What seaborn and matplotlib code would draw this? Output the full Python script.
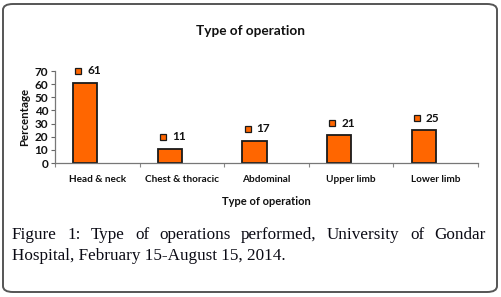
import matplotlib
matplotlib.use('Agg')
import matplotlib.pyplot as plt
import matplotlib.transforms as mtransforms
from matplotlib.patches import FancyBboxPatch
import numpy as np
import pandas as pd
import seaborn as sns

categories = ['Head & neck', 'Chest & thoracic', 'Abdominal', 'Upper limb', 'Lower limb']
percentages = [61, 11, 17, 21, 25]
y_ticks = [0, 10, 20, 30, 40, 50, 60, 70]

caption_line1 = 'Figure 1: Type of operations performed, University of Gondar'
caption_line2 = 'Hospital, February 15-August 15, 2014.'

# Excel-style layout: the bar sits in the left slot of a two-slot group
df = pd.DataFrame({
    'operation': categories * 2,
    'pct': percentages + [np.nan] * len(categories),
    'series': ['pct'] * len(categories) + ['blank'] * len(categories),
})

sns.set_style('white')
plt.rcParams['font.family'] = ['Lato', 'DejaVu Sans']

fig = plt.figure(figsize=(5.01, 2.97), dpi=100)
ax = fig.add_axes([55 / 501, 134 / 297, 423 / 501, 92 / 297])

sns.barplot(data=df, x='operation', y='pct', hue='series', hue_order=['pct', 'blank'],
            palette={'pct': '#ff6600', 'blank': '#ffffff'}, width=0.57, dodge=True,
            edgecolor='#1a1a1a', linewidth=1.3, saturation=1, legend=False, ax=ax)

ax.set_xlim(-0.5, len(categories) - 0.5)
ax.set_ylim(0, 70)
ax.set_yticks(y_ticks)
ax.tick_params(axis='y', labelsize=8.5, length=3, width=0.8, color='#666666', pad=2, direction='out', left=True)
ax.tick_params(axis='x', labelsize=7.2, length=0, pad=8.5)
for lab in ax.get_xticklabels() + ax.get_yticklabels():
    lab.set_fontweight('bold')
    lab.set_color('#111111')
ax.set_xticks([i + 0.5 for i in range(-1, len(categories))], minor=True)
ax.tick_params(axis='x', which='minor', length=3, width=0.8, color='#888888', bottom=True)
for side in ['top', 'right']:
    ax.spines[side].set_visible(False)
for side in ['left', 'bottom']:
    ax.spines[side].set_color('#777777')
    ax.spines[side].set_linewidth(0.9)

ax.set_xlabel('Type of operation', fontsize=8, fontweight='bold', labelpad=9, color='#111111')
ax.set_ylabel('Percentage', fontsize=8.3, fontweight='bold', labelpad=3, color='#111111')
fig.text(250 / 501, 1 - 31 / 297, 'Type of operation', fontsize=9.8, fontweight='bold',
         ha='center', va='center', color='#111111')

# data labels with legend key, placed above each bar
bars = [p for p in ax.patches if np.isfinite(p.get_height()) and p.get_height() > 0]
bars = sorted(bars, key=lambda p: p.get_x())
for p, v in zip(bars, percentages):
    cx = p.get_x() + p.get_width() / 2
    mk = mtransforms.offset_copy(ax.transData, fig=fig, x=-5.0, y=8.6, units='points')
    ax.plot([cx], [v], marker='s', markersize=4.2, color='#ff6600',
            markeredgecolor='#1a1a1a', markeredgewidth=0.9, transform=mk, clip_on=False)
    ax.annotate(str(v), (cx, v), xytext=(1.5, 8.6), textcoords='offset points',
                ha='left', va='center', fontsize=8.5, fontweight='bold', color='#111111')

# caption, first line justified
serif = ['Liberation Serif', 'DejaVu Serif']
fig.canvas.draw()
renderer = fig.canvas.get_renderer()
left_px, right_px = 12, 486
texts = [fig.text(0, 1 - 239 / 297, w, fontsize=12.3, family=serif, ha='left',
                  va='baseline', color='#0a0a14')
         for w in caption_line1.split()]
widths = [t.get_window_extent(renderer).width for t in texts]
gap = (right_px - left_px - sum(widths)) / (len(texts) - 1)
x = left_px
for t, w in zip(texts, widths):
    t.set_x(x / 501)
    x += w + gap
fig.text(left_px / 501, 1 - 260 / 297, caption_line2, fontsize=12.3, family=serif,
         ha='left', va='baseline', color='#0a0a14')

frame = FancyBboxPatch((3 / 501, 5 / 297), 494 / 501, 288 / 297,
                       boxstyle='round,pad=0,rounding_size=0.02', transform=fig.transFigure,
                       facecolor='none', edgecolor='#555555', linewidth=1.4)
fig.patches.append(frame)

fig.savefig('out.png', dpi=100)
